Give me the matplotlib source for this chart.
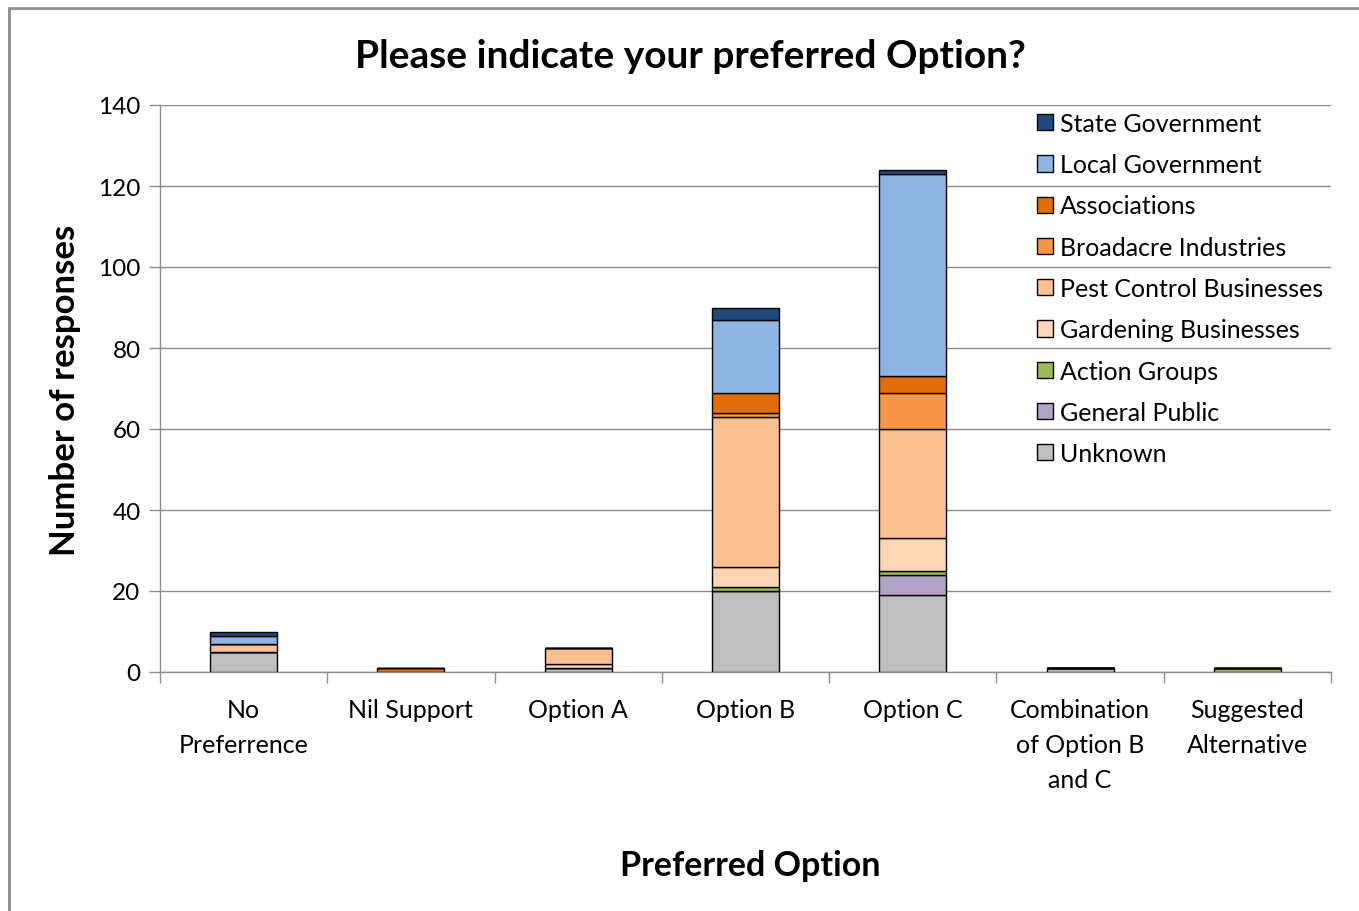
import matplotlib
matplotlib.use("Agg")
import matplotlib.pyplot as plt
import numpy as np
from matplotlib.patches import Rectangle

plt.rcParams["font.family"] = ["Lato", "DejaVu Sans"]

# ── Dados ──────────────────────────────────────────────────────────────────────
categories = ["No\nPreferrence", "Nil Support", "Option A", "Option B",
              "Option C", "Combination\nof Option B\nand C", "Suggested\nAlternative"]

# séries, de baixo para cima na pilha
unknown        = [5, 0, 1, 20, 19, 1, 0]
general_public = [0, 0, 0, 0, 5, 0, 0]
action_groups  = [0, 0, 0, 1, 1, 0, 1]
gardening      = [0, 0, 1, 5, 8, 0, 0]
pest_control   = [2, 0, 4, 37, 27, 0, 0]
broadacre      = [0, 0, 0, 1, 9, 0, 0]
associations   = [0, 1, 0, 5, 4, 0, 0]
local_gov      = [2, 0, 0, 18, 50, 0, 0]
state_gov      = [1, 0, 0, 3, 1, 0, 0]

series_names = ["Unknown", "General Public", "Action Groups", "Gardening Businesses",
                "Pest Control Businesses", "Broadacre Industries", "Associations",
                "Local Government", "State Government"]
series_vals = [unknown, general_public, action_groups, gardening, pest_control,
               broadacre, associations, local_gov, state_gov]
series_colors = ["#BFBFBF", "#B3A2C7", "#9BBB59", "#FCD5B5", "#FAC090",
                 "#F79646", "#E46C0A", "#8EB4E3", "#1F497D"]

# ── Figura ─────────────────────────────────────────────────────────────────────
fig = plt.figure(figsize=(13.59, 9.12), dpi=100)
ax = fig.add_axes([160 / 1359, 1 - 673 / 912, 1171 / 1359, 567 / 912])

# moldura externa do gráfico
fig.patches.append(Rectangle((9 / 1359, -0.1), 1.2, 1 - 9 / 912 + 0.1,
                             transform=fig.transFigure, fill=False,
                             edgecolor="#8C8C8C", linewidth=2, zorder=0))

x = np.arange(len(categories))
bottom = np.zeros(len(categories))
handles = []
for name, vals, col in zip(series_names, series_vals, series_colors):
    vals = np.array(vals, dtype=float)
    b = ax.bar(x, vals, width=0.40, bottom=bottom, color=col,
               edgecolor="black", linewidth=1.0, label=name, zorder=3)
    handles.append(b)
    bottom += vals

ax.set_xlim(-0.5, len(categories) - 0.5)
ax.set_ylim(0, 140)
ax.set_yticks(np.arange(0, 141, 20))
ax.yaxis.grid(True, color="#8C8C8C", linewidth=1.0, zorder=0)
ax.set_axisbelow(True)

for s in ["top", "right"]:
    ax.spines[s].set_visible(False)
for s in ["left", "bottom"]:
    ax.spines[s].set_color("#8C8C8C")
    ax.spines[s].set_linewidth(1.0)

ax.set_xticks(x)
ax.set_xticklabels(categories, fontsize=18, linespacing=1.62, va="top")
ax.set_xticks(np.arange(-0.5, len(categories), 1), minor=True)
ax.tick_params(axis="x", which="major", length=0, pad=19)
ax.tick_params(axis="x", which="minor", length=8, color="#8C8C8C", width=1)
ax.tick_params(axis="y", length=8, color="#8C8C8C", width=1, labelsize=17.5, pad=6)

fig.text(690 / 1359, 1 - 57 / 912, "Please indicate your preferred Option?",
         ha="center", va="center", fontsize=28, fontweight="bold")
fig.text(750 / 1359, 1 - 866 / 912, "Preferred Option",
         ha="center", va="center", fontsize=24.5, fontweight="bold")
fig.text(65 / 1359, 1 - 390 / 912, "Number of responses", rotation=90,
         ha="center", va="center", fontsize=25, fontweight="bold")

leg = ax.legend(handles[::-1], series_names[::-1], loc="upper left",
                bbox_to_anchor=(1037 / 1359, 1 - 113 / 912),
                bbox_transform=fig.transFigure, frameon=False, fontsize=18,
                handlelength=0.62, handleheight=0.62, handletextpad=0.3,
                labelspacing=0.73, borderpad=0, borderaxespad=0)

fig.savefig("out.png", dpi=100)
